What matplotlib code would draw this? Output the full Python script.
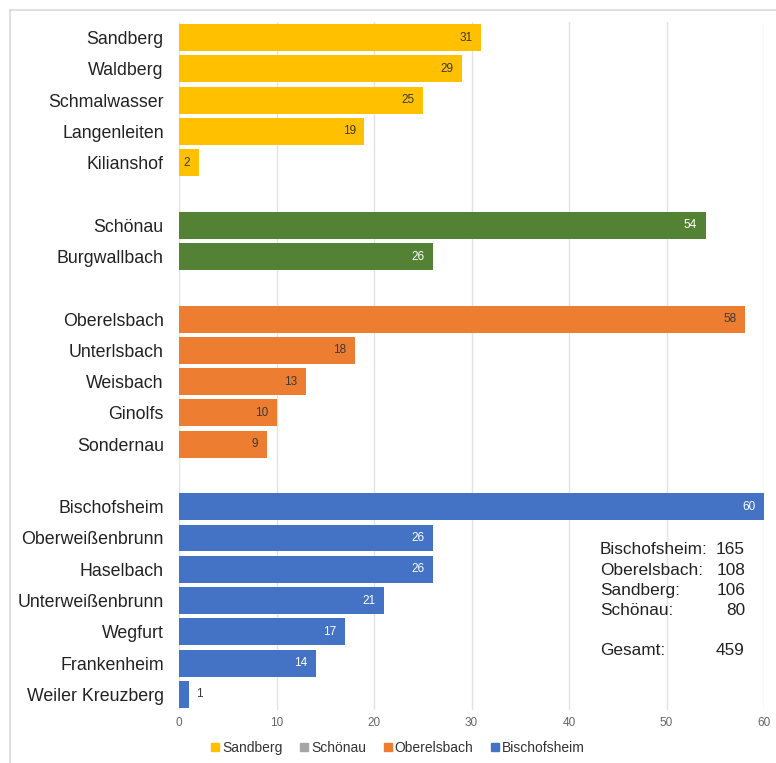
import matplotlib
matplotlib.use("Agg")
import matplotlib.pyplot as plt
from matplotlib.lines import Line2D

plt.rcParams['font.family'] = ['Liberation Sans', 'DejaVu Sans']

# Groups (Gemeinden) and their villages with counts
group_names = ["Sandberg", "Schönau", "Oberelsbach", "Bischofsheim"]
sandberg_places = ["Sandberg", "Waldberg", "Schmalwasser", "Langenleiten", "Kilianshof"]
sandberg_values = [31, 29, 25, 19, 2]
schoenau_places = ["Schönau", "Burgwallbach"]
schoenau_values = [54, 26]
oberelsbach_places = ["Oberelsbach", "Unterlsbach", "Weisbach", "Ginolfs", "Sondernau"]
oberelsbach_values = [58, 18, 13, 10, 9]
bischofsheim_places = ["Bischofsheim", "Oberweißenbrunn", "Haselbach", "Unterweißenbrunn",
                       "Wegfurt", "Frankenheim", "Weiler Kreuzberg"]
bischofsheim_values = [60, 26, 26, 21, 17, 14, 1]
x_ticks = [0, 10, 20, 30, 40, 50, 60]

group_colors = ["#FFC000", "#548235", "#ED7D31", "#4472C4"]
legend_colors = ["#FFC000", "#A5A5A5", "#ED7D31", "#4472C4"]
label_colors = ["#3a3a3a", "white", "#3a3a3a", "white"]

groups = [
    (sandberg_places, sandberg_values),
    (schoenau_places, schoenau_values),
    (oberelsbach_places, oberelsbach_values),
    (bischofsheim_places, bischofsheim_values),
]

fig = plt.figure(figsize=(7.76, 7.63), dpi=100)
ax = fig.add_axes([179 / 776, 1 - 710 / 763, (764 - 179) / 776, (710 - 22) / 763])

# light frame along the top and left edge
fig.add_artist(Line2D([10 / 776, 10 / 776], [0, 1 - 10 / 763], transform=fig.transFigure,
                      color="#d9d9d9", lw=1.2))
fig.add_artist(Line2D([10 / 776, 1], [1 - 10 / 763, 1 - 10 / 763], transform=fig.transFigure,
                      color="#d9d9d9", lw=1.2))

ticks, ticklabels = [], []
row = 0
for gi, (places, values) in enumerate(groups):
    for place, val in zip(places, values):
        ax.barh(row, val, height=0.86, color=group_colors[gi], zorder=2)
        if val >= 2:
            ax.annotate(str(val), (val, row), xytext=(-6, 0), textcoords="offset points",
                        ha="right", va="center", fontsize=8.5, color=label_colors[gi], zorder=3)
        else:
            ax.annotate(str(val), (val, row), xytext=(5, 0), textcoords="offset points",
                        ha="left", va="center", fontsize=8.5, color="#3a3a3a", zorder=3)
        ticks.append(row)
        ticklabels.append(place)
        row += 1
    row += 1  # blank row between groups

n_rows = row - 1
ax.set_ylim(n_rows - 0.5, -0.5)
ax.set_xlim(0, 60)
ax.set_yticks(ticks)
ax.set_yticklabels(ticklabels, fontsize=12.8, color="#222222")
ax.set_xticks(x_ticks)
ax.set_xticklabels([str(t) for t in x_ticks], fontsize=8.5, color="#666666")
ax.tick_params(axis="y", length=0, pad=11)
ax.tick_params(axis="x", length=0, pad=5)
ax.grid(axis="x", color="#e3e3e3", lw=1, zorder=0)
ax.set_axisbelow(True)
for s in ax.spines.values():
    s.set_visible(False)

# totals per Gemeinde
totals = [sum(v) for _, v in groups]
order = sorted(range(len(group_names)), key=lambda i: -totals[i])
ty = 550
for i in order:
    fig.text(600 / 776, 1 - ty / 763, group_names[i] + ":", fontsize=12.4, color="#222222",
             ha="left", va="center")
    fig.text(745 / 776, 1 - ty / 763, str(totals[i]), fontsize=12.4, color="#222222",
             ha="right", va="center")
    ty += 20.3
ty += 19
fig.text(600 / 776, 1 - ty / 763, "Gesamt:", fontsize=12.4, color="#222222", ha="left", va="center")
fig.text(745 / 776, 1 - ty / 763, str(sum(totals)), fontsize=12.4, color="#222222",
         ha="right", va="center")

handles = [Line2D([], [], marker="s", linestyle="none", markersize=5.5, color=c) for c in legend_colors]
fig.legend(handles, group_names, loc="center left", bbox_to_anchor=(212 / 776, 1 - 748 / 763),
           ncol=4, frameon=False, fontsize=10, handlelength=0.5, handletextpad=0.25,
           columnspacing=1.3, labelcolor="#333333", borderaxespad=0, borderpad=0)

fig.savefig("out.png", dpi=100, facecolor="white")
